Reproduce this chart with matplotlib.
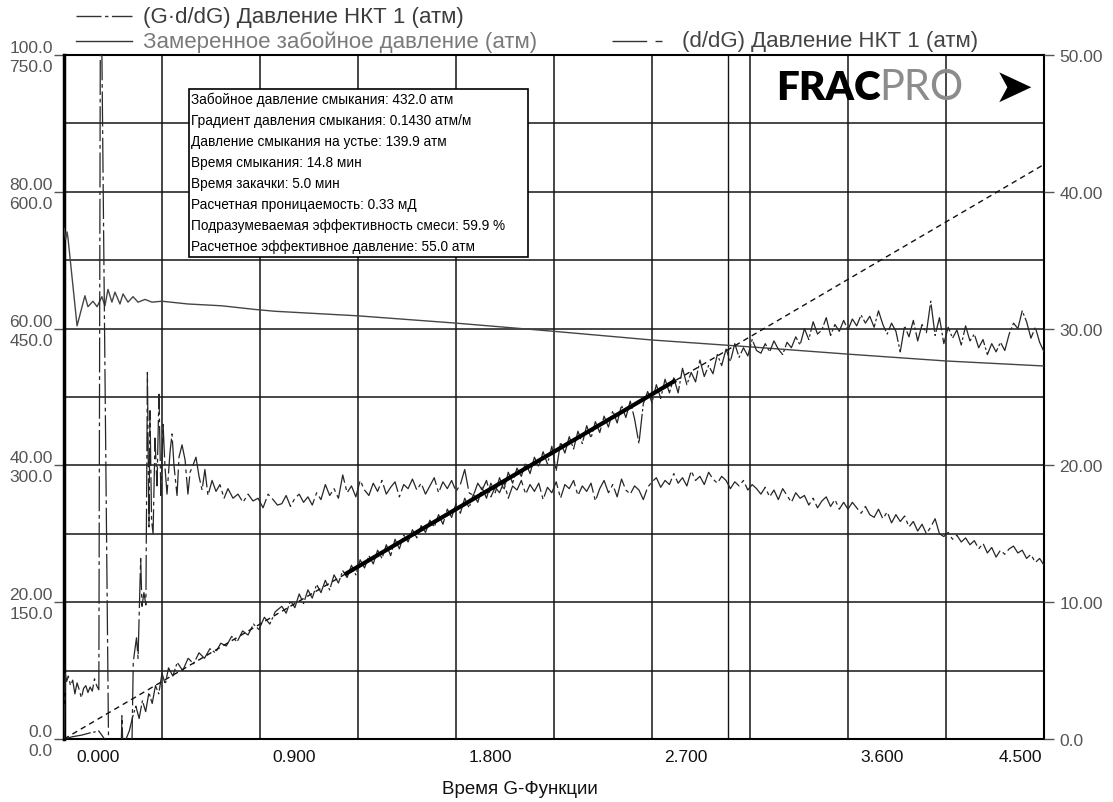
import numpy as np
import matplotlib.pyplot as plt
import matplotlib.transforms as mtransforms
from matplotlib.lines import Line2D
from matplotlib.patches import Rectangle

plt.rcParams['font.family'] = ['Liberation Sans', 'DejaVu Sans']

W, H = 1113, 803

# measured bottomhole pressure (atm), left inner scale 0-750
bhp_g = [0.000, 0.008, 0.014, 0.018, 0.060, 0.096, 0.110, 0.133, 0.152, 0.174,
         0.188, 0.202, 0.220, 0.234, 0.257, 0.271, 0.294, 0.317, 0.340, 0.372,
         0.404, 0.450, 0.569, 0.725, 0.877, 0.969, 1.350, 1.800, 2.250, 2.700,
         3.150, 3.600, 4.050, 4.500]
bhp_p = [560, 548, 556, 550, 453, 486, 474, 480, 474, 485,
         475, 493, 479, 490, 477, 488, 479, 485, 479, 482,
         479, 480, 477, 475, 471, 469, 464, 456, 447, 437.5,
         430, 422, 414.5, 409]

# dP/dG, right scale 0-50 (early, irregular samples)
dpdg_g_early = [0.000, 0.006, 0.012, 0.020, 0.030, 0.040, 0.050, 0.060, 0.070, 0.080,
                0.090, 0.100, 0.110, 0.120, 0.130, 0.140, 0.150, 0.160, 0.168, 0.205,
                0.230, 0.262, 0.266, 0.272, 0.300, 0.312, 0.318, 0.326, 0.333, 0.340,
                0.346, 0.352, 0.358, 0.367, 0.376, 0.383, 0.390, 0.395, 0.402, 0.409,
                0.418, 0.427, 0.436, 0.445, 0.455, 0.464, 0.473, 0.487, 0.496, 0.505,
                0.519, 0.528, 0.542, 0.556, 0.569, 0.579, 0.592, 0.606, 0.620, 0.634,
                0.647, 0.661, 0.680, 0.698, 0.716, 0.735, 0.753, 0.776, 0.799, 0.822,
                0.845, 0.868, 0.891, 0.914, 0.937, 0.960, 0.980]
dpdg_v_early = [0.0, 4.8, 4.2, 4.6, 3.9, 4.3, 3.3, 4.1, 3.6, 3.0,
                3.7, 3.9, 3.4, 3.8, 3.5, 4.4, 3.9, 3.6, 60.0, -1.0,
                -2.0, -1.0, 1.7, -1.5, -1.5, -0.5, 5.6, 6.6, 7.4, 5.9,
                9.5, 13.2, 9.7, 10.7, 9.8, 26.8, 15.5, 24.0, 16.0, 15.0,
                22.0, 18.5, 25.2, 17.8, 23.0, 19.8, 17.9, 21.0, 22.3, 20.0,
                17.8, 20.6, 21.5, 20.4, 17.9, 19.5, 20.0, 20.6, 19.2, 18.2,
                19.7, 17.8, 18.9, 18.1, 18.6, 17.6, 18.3, 17.6, 17.9, 17.3,
                17.9, 17.4, 17.6, 16.9, 17.9, 17.5, 17.1]

# common G samples for the later part of both derivative curves
g_late = [1.00, 1.02, 1.04, 1.06, 1.08, 1.10, 1.12, 1.14, 1.16, 1.18,
          1.20, 1.22, 1.24, 1.26, 1.28, 1.30, 1.32, 1.34, 1.36, 1.38,
          1.40, 1.42, 1.44, 1.46, 1.48, 1.50, 1.52, 1.54, 1.56, 1.58,
          1.60, 1.62, 1.64, 1.66, 1.68, 1.70, 1.72, 1.74, 1.76, 1.78,
          1.80, 1.82, 1.84, 1.86, 1.88, 1.90, 1.92, 1.94, 1.96, 1.98,
          2.00, 2.02, 2.04, 2.06, 2.08, 2.10, 2.12, 2.14, 2.16, 2.18,
          2.20, 2.22, 2.24, 2.26, 2.28, 2.30, 2.32, 2.34, 2.36, 2.38,
          2.40, 2.42, 2.44, 2.46, 2.48, 2.50, 2.52, 2.54, 2.56, 2.58,
          2.60, 2.62, 2.64, 2.66, 2.68, 2.70, 2.72, 2.74, 2.76, 2.78,
          2.80, 2.82, 2.84, 2.86, 2.88, 2.90, 2.92, 2.94, 2.96, 2.98,
          3.00, 3.02, 3.04, 3.06, 3.08, 3.10, 3.12, 3.14, 3.16, 3.18,
          3.20, 3.22, 3.24, 3.26, 3.28, 3.30, 3.32, 3.34, 3.36, 3.38,
          3.40, 3.42, 3.44, 3.46, 3.48, 3.50, 3.52, 3.54, 3.56, 3.58,
          3.60, 3.62, 3.64, 3.66, 3.68, 3.70, 3.72, 3.74, 3.76, 3.78,
          3.80, 3.82, 3.84, 3.86, 3.88, 3.90, 3.92, 3.94, 3.96, 3.98,
          4.00, 4.02, 4.04, 4.06, 4.08, 4.10, 4.12, 4.14, 4.16, 4.18,
          4.20, 4.22, 4.24, 4.26, 4.28, 4.30, 4.32, 4.34, 4.36, 4.38,
          4.40, 4.42, 4.44, 4.46, 4.48, 4.50]

dpdg_v_late = [17.2, 17.8, 17.0, 17.6, 17.9, 17.3, 17.7, 17.1, 18.0, 17.5,
               18.6, 17.8, 18.3, 17.6, 19.3, 18.0, 18.5, 17.7, 18.9, 18.2,
               17.8, 18.7, 18.1, 18.9, 17.9, 18.4, 18.8, 17.7, 18.6, 18.3,
               19.0, 18.2, 18.7, 17.9, 18.5, 19.1, 18.0, 18.8, 18.3, 18.9,
               18.1, 18.6, 19.7, 18.0, 17.8, 18.7, 18.2, 18.9, 17.7, 18.4,
               18.0, 18.8, 17.6, 18.5, 18.2, 18.9, 17.9, 18.6, 18.1, 18.7,
               17.5, 18.4, 18.0, 18.8, 17.6, 18.6, 18.3, 18.9, 17.8, 18.5,
               18.1, 18.7, 17.4, 18.3, 18.9, 18.0, 18.6, 17.7, 19.0, 18.2,
               17.9, 18.5, 18.2, 17.5, 18.4, 18.8, 19.1, 18.4, 18.9, 18.6,
               19.4, 18.7, 19.1, 18.5, 19.6, 18.9, 19.2, 18.6, 19.5, 19.0,
               18.7, 19.2, 18.9, 18.3, 18.8, 18.5, 18.9, 18.2, 18.6, 18.3,
               17.9, 18.4, 17.7, 18.2, 17.5, 18.3, 17.8, 17.3, 18.0, 17.6,
               17.8, 17.1, 17.6, 16.9, 17.4, 17.7, 17.0, 17.5, 16.8, 17.3,
               16.8, 17.3, 16.9, 16.5, 17.0, 16.4, 16.2, 16.8, 16.1, 16.6,
               15.8, 16.4, 15.9, 16.3, 15.5, 15.9, 15.2, 15.7, 15.0, 15.5,
               16.1, 15.0, 14.8, 15.1, 14.6, 14.9, 14.4, 14.7, 14.2, 14.5,
               13.9, 14.3, 13.6, 14.0, 13.3, 13.8, 13.5, 13.9, 14.1, 13.6,
               13.8, 13.2, 13.5, 12.9, 13.2, 12.7]

# G*dP/dG, right scale 0-50
gdpdg_g_early = [0.000, 0.040, 0.080, 0.120, 0.160, 0.200, 0.240, 0.280, 0.300, 0.315,
                 0.330, 0.345, 0.360, 0.375, 0.390, 0.405, 0.420, 0.435, 0.450, 0.465,
                 0.480, 0.500, 0.520, 0.545, 0.570, 0.595, 0.620, 0.645, 0.670, 0.695,
                 0.720, 0.745, 0.770, 0.795, 0.820, 0.845, 0.870, 0.895, 0.920, 0.945,
                 0.970]
gdpdg_v_early = [0.0, 0.17, 0.28, 0.45, 0.58, -0.3, -0.5, -0.2, 0.6, 1.6,
                 2.4, 1.5, 2.8, 2.0, 3.4, 2.6, 3.9, 3.3, 4.8, 4.0,
                 5.2, 4.6, 5.6, 5.0, 5.9, 5.5, 6.3, 5.9, 6.6, 6.3,
                 7.0, 6.8, 7.5, 7.1, 7.9, 7.6, 8.4, 8.0, 8.9, 8.4,
                 9.3]
gdpdg_v_late = [9.7, 9.2, 10.1, 9.6, 10.6, 9.9, 10.9, 10.3, 11.3, 10.7,
                11.6, 10.9, 12.0, 11.4, 12.3, 11.8, 12.7, 12.0, 13.1, 12.5,
                13.4, 12.8, 13.8, 13.2, 14.2, 13.4, 14.6, 13.9, 14.9, 14.4,
                15.3, 14.7, 15.6, 15.1, 16.0, 15.5, 16.4, 15.7, 16.8, 16.2,
                17.2, 16.5, 17.6, 16.9, 17.9, 17.3, 18.4, 17.6, 18.7, 18.0,
                19.1, 18.2, 19.5, 18.7, 19.8, 19.2, 20.2, 19.4, 20.6, 19.9,
                21.0, 20.1, 21.4, 19.6, 21.7, 20.9, 22.1, 21.2, 22.5, 21.6,
                22.9, 22.0, 23.2, 22.4, 23.6, 22.8, 24.0, 23.1, 24.4, 23.5,
                24.7, 23.4, 21.6, 24.5, 25.4, 24.6, 25.9, 24.9, 26.3, 25.3,
                26.4, 25.3, 27.1, 25.9, 26.8, 26.1, 27.7, 26.5, 27.3, 26.7,
                28.1, 27.3, 28.5, 27.6, 28.9, 27.9, 28.6, 28.0, 29.2, 28.4,
                28.2, 28.9, 28.3, 29.1, 28.5, 28.1, 29.0, 28.6, 29.4, 28.8,
                30.0, 29.2, 30.5, 29.6, 29.9, 30.8, 29.5, 30.3, 29.8, 30.6,
                29.9, 30.7, 30.2, 31.0, 30.4, 30.9, 30.1, 31.3, 30.3, 29.6,
                30.4, 29.8, 28.3, 30.2, 29.4, 30.6, 29.1, 30.3, 29.7, 32.0,
                29.5, 30.8, 28.9, 30.1, 29.3, 29.9, 28.8, 30.2, 29.1, 29.6,
                28.6, 29.2, 28.1, 28.9, 28.3, 29.0, 28.4, 29.6, 30.4, 30.0,
                31.3, 30.5, 29.3, 30.1, 29.0, 28.3]

dpdg_g = dpdg_g_early + g_late
dpdg_v = dpdg_v_early + dpdg_v_late
gdpdg_g = gdpdg_g_early + g_late
gdpdg_v = gdpdg_v_early + gdpdg_v_late

# straight line through origin and highlighted tangent part
fit_g = [0.0, 4.5]
fit_v = [0.0, 42.0]
tangent_g = [1.29, 2.81]
tangent_v = [12.04, 26.23]
closure_g = 3.05

x_ticks = [0.0, 0.9, 1.8, 2.7, 3.6, 4.5]
x_labels = ['0.000', '0.900', '1.800', '2.700', '3.600', '4.500']
left_ticks = [0, 20, 40, 60, 80, 100]
left_labels = ['0.0', '20.00', '40.00', '60.00', '80.00', '100.0']
bhp_ticks = [0, 150, 300, 450, 600, 750]
bhp_labels = ['0.0', '150.0', '300.0', '450.0', '600.0', '750.0']
right_ticks = [0, 10, 20, 30, 40, 50]
right_labels = ['0.0', '10.00', '20.00', '30.00', '40.00', '50.00']

info_lines = [
    'Забойное давление смыкания: 432.0 атм',
    'Градиент давления смыкания: 0.1430 атм/м',
    'Давление смыкания на устье: 139.9 атм',
    'Время смыкания: 14.8 мин',
    'Время закачки: 5.0 мин',
    'Расчетная проницаемость: 0.33 мД',
    'Подразумеваемая эффективность смеси: 59.9 %',
    'Расчетное эффективное давление: 55.0 атм',
]

fig = plt.figure(figsize=(W / 100, H / 100), dpi=100)
ax = fig.add_axes([64 / W, 1 - 740 / H, (1044 - 64) / W, (740 - 56) / H])
ax.set_xlim(0, 4.5)
ax.set_ylim(0, 100)

ax.set_xticks(x_ticks)
ax.set_xticklabels(x_labels)
ax.set_xticks(np.arange(0.45, 4.5, 0.9), minor=True)
ax.set_yticks(left_ticks)
ax.set_yticklabels(left_labels)
ax.set_yticks([10, 30, 50, 70, 90], minor=True)
ax.grid(True, which='both', color='#151515', lw=1.1)
ax.tick_params(axis='x', which='both', length=0, labelsize=12.5,
               labelcolor='#111111', pad=7)
ax.tick_params(axis='y', which='major', length=7, width=1, color='#555555',
               labelcolor='#555555', labelsize=12.5, pad=1)
ax.tick_params(axis='y', which='minor', length=0)
plt.setp(ax.get_yticklabels(), va='bottom')
for sp in ax.spines.values():
    sp.set_color('black')
    sp.set_linewidth(1.5)
ax.spines['left'].set_linewidth(2.5)

shift = mtransforms.ScaledTranslation(0.34, 0, fig.dpi_scale_trans)
back = mtransforms.ScaledTranslation(-0.24, 0, fig.dpi_scale_trans)
labs = ax.get_xticklabels()
for lab in labs[:-1]:
    lab.set_transform(lab.get_transform() + shift)
labs[-1].set_transform(labs[-1].get_transform() + back)

ax_bhp = ax.twinx()
ax_bhp.set_ylim(0, 750)
ax_bhp.yaxis.tick_left()
ax_bhp.set_yticks(bhp_ticks)
ax_bhp.set_yticklabels(bhp_labels)
ax_bhp.tick_params(axis='y', length=0, labelcolor='#555555', labelsize=12.5, pad=8)
down = mtransforms.ScaledTranslation(0, -0.04, fig.dpi_scale_trans)
for lab in ax_bhp.get_yticklabels():
    lab.set_va('top')
    lab.set_transform(lab.get_transform() + down)
for sp in ax_bhp.spines.values():
    sp.set_visible(False)

ax_r = ax.twinx()
ax_r.set_ylim(0, 50)
ax_r.set_yticks(right_ticks)
ax_r.set_yticklabels(right_labels)
ax_r.tick_params(axis='y', length=7, width=1, color='#555555',
                 labelcolor='#555555', labelsize=12.5, pad=4)
for sp in ax_r.spines.values():
    sp.set_visible(False)

dash_gd = (18, 2.5, 2.5, 2.5)
dash_d = (25, 6, 5, 6)

ax_bhp.plot(bhp_g, bhp_p, color='#454545', lw=1.0)
ax_r.plot(gdpdg_g, gdpdg_v, color='#262626', lw=0.9, dashes=(22, 2, 2, 2))
ax_r.plot(dpdg_g, dpdg_v, color='#262626', lw=0.9, dashes=(28, 3, 3, 3))
ax_r.plot(fit_g, fit_v, color='#111111', lw=1.0, dashes=(4, 3))
ax_r.plot(tangent_g, tangent_v, color='black', lw=3.0, solid_capstyle='butt')
ax.axvline(closure_g, color='#151515', lw=1.0)


# legend
def legend_item(x0, x1, y, text, tx, color, **kw):
    fy = 1 - y / H
    fig.add_artist(Line2D([x0 / W, x1 / W], [fy, fy], transform=fig.transFigure,
                          color='#333333', lw=1.0, **kw))
    fig.text(tx / W, fy, text, fontsize=16, color=color, va='center', ha='left')


legend_item(76, 132, 17, '(G·d/dG) Давление НКТ 1 (атм)', 143, '#3c3c3c', dashes=dash_gd)
legend_item(76, 132, 42, 'Замеренное забойное давление (атм)', 143, '#7a7a7a')
legend_item(612, 664, 42, '(d/dG) Давление НКТ 1 (атм)', 682, '#444444', dashes=dash_d)

# info box
fig.add_artist(Rectangle((189 / W, 1 - 258 / H), (528 - 189) / W, (258 - 90) / H,
                         transform=fig.transFigure, facecolor='white',
                         edgecolor='black', lw=1.2, zorder=5))
for k, line in enumerate(info_lines):
    fig.text(191 / W, 1 - (100 + 21 * k) / H, line, fontsize=9.8, color='#000000',
             va='center', ha='left', zorder=6)

# logo
fig.text(776 / W, 1 - 88 / H, 'FRAC', fontsize=29, fontweight='heavy', family='Lato',
         color='black', va='center', ha='left')
fig.text(879 / W, 1 - 88 / H, 'PRO', fontsize=30, family='Lato', color='#8c8c8c',
         va='center', ha='left')
fig.text(994 / W, 1 - 89 / H, '➤', fontsize=34, family='DejaVu Sans', color='black',
         va='center', ha='left')

fig.text(520 / W, 1 - 790 / H, 'Время G-Функции', fontsize=13.5, color='#111111',
         ha='center', va='center')

fig.savefig('out.png', dpi=100)
